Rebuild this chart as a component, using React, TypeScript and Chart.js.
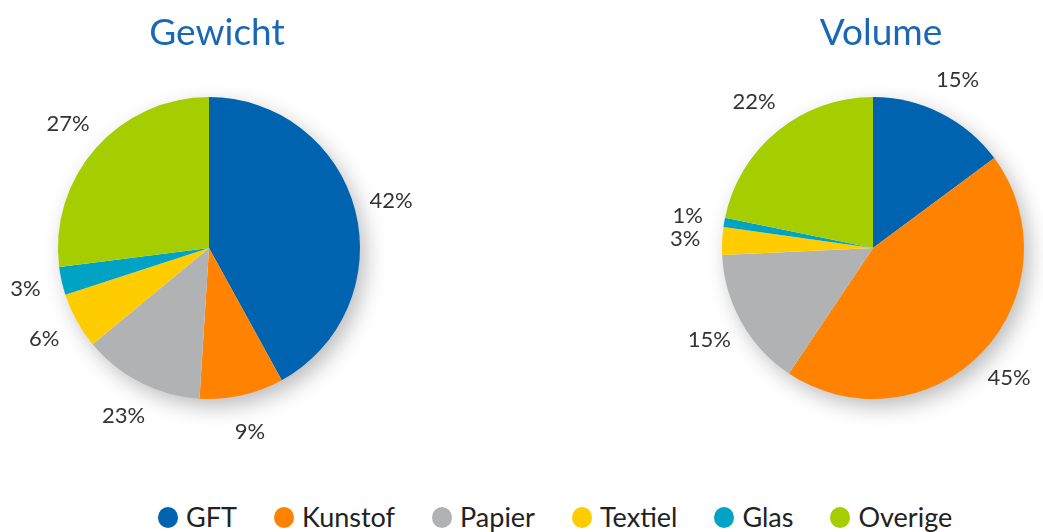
import React, { useEffect, useRef } from "react";
import { Chart, registerables } from "chart.js";

Chart.register(...registerables);

const categories = ["GFT", "Kunstof", "Papier", "Textiel", "Glas", "Overige"];
const colors = ["#0063af", "#ff8200", "#b1b2b4", "#ffcc00", "#00a3c4", "#a6cd00"];

const gewichtValues = [42, 9, 13, 6, 3, 27];
const gewichtLabels = ["42%", "9%", "23%", "6%", "3%", "27%"];

const volumeValues = [15, 45, 15, 3, 1, 22];
const volumeLabels = ["15%", "45%", "15%", "3%", "1%", "22%"];

const shadowPlugin = {
  id: "pieShadow",
  beforeDatasetsDraw(chart: any) {
    const arc = chart.getDatasetMeta(0).data[0];
    if (!arc) return;
    const { x, y, outerRadius } = arc;
    const ctx = chart.ctx;
    ctx.save();
    ctx.shadowColor = "rgba(0,0,0,0.28)";
    ctx.shadowBlur = 22;
    ctx.shadowOffsetX = 6;
    ctx.shadowOffsetY = 8;
    ctx.beginPath();
    ctx.arc(x, y, outerRadius - 1, 0, Math.PI * 2);
    ctx.fillStyle = "#ffffff";
    ctx.fill();
    ctx.restore();
  },
};

const outsideLabels = {
  id: "outsideLabels",
  afterDatasetsDraw(chart: any, _args: any, opts: any) {
    const meta = chart.getDatasetMeta(0);
    const ctx = chart.ctx;
    const texts: string[] = opts.texts || [];
    ctx.save();
    ctx.font = "22px Lato";
    ctx.fillStyle = "#333333";
    ctx.textAlign = "center";
    ctx.textBaseline = "middle";
    meta.data.forEach((arc: any, i: number) => {
      const mid = (arc.startAngle + arc.endAngle) / 2;
      const r = arc.outerRadius + 37;
      ctx.fillText(texts[i], arc.x + Math.cos(mid) * r, arc.y + Math.sin(mid) * r);
    });
    ctx.restore();
  },
};

const pieTitle = {
  id: "pieTitle",
  afterDraw(chart: any, _args: any, opts: any) {
    const ctx = chart.ctx;
    const ca = chart.chartArea;
    ctx.save();
    ctx.font = "37px Lato";
    ctx.fillStyle = "#1a68b3";
    ctx.textAlign = "center";
    ctx.textBaseline = "middle";
    ctx.fillText(opts.text, (ca.left + ca.right) / 2 + 8, 33);
    ctx.restore();
  },
};

function PieChart({ title, values, texts }: { title: string; values: number[]; texts: string[] }) {
  const ref = useRef<HTMLCanvasElement>(null);
  useEffect(() => {
    if (!ref.current) return;
    const chart = new Chart(ref.current, {
      type: "pie",
      data: {
        labels: categories,
        datasets: [
          {
            data: values,
            backgroundColor: colors,
            borderWidth: 0,
            hoverOffset: 0,
          },
        ],
      },
      options: {
        responsive: false,
        animation: false,
        layout: { padding: { top: 97, bottom: 81, left: 0, right: 0 } },
        plugins: {
          legend: { display: false },
          tooltip: { enabled: false },
          title: { display: false },
          pieTitle: { text: title },
          outsideLabels: { texts },
        } as any,
      },
      plugins: [shadowPlugin, outsideLabels, pieTitle],
    });
    return () => chart.destroy();
  }, []);
  return <canvas ref={ref} width={418} height={480} style={{ display: "block" }} />;
}

export default function App() {
  return (
    <div
      style={{
        position: "fixed",
        left: 0,
        top: 0,
        width: 1043,
        height: 532,
        overflow: "hidden",
        background: "#ffffff",
      }}
    >
      <div style={{ position: "absolute", left: 0, top: 0 }}>
        <PieChart title="Gewicht" values={gewichtValues} texts={gewichtLabels} />
      </div>
      <div style={{ position: "absolute", left: 664, top: 0 }}>
        <PieChart title="Volume" values={volumeValues} texts={volumeLabels} />
      </div>
      <div
        style={{
          position: "absolute",
          left: 158,
          top: 502,
          display: "flex",
          alignItems: "center",
          fontFamily: "Lato",
          fontSize: 27,
          lineHeight: "30px",
          color: "#222222",
          whiteSpace: "nowrap",
        }}
      >
        {categories.map((c, i) => (
          <div key={c} style={{ display: "flex", alignItems: "center", marginRight: 37 }}>
            <span
              style={{
                display: "inline-block",
                width: 20,
                height: 21,
                borderRadius: "50%",
                background: colors[i],
                marginRight: 8,
              }}
            />
            <span>{c}</span>
          </div>
        ))}
      </div>
    </div>
  );
}
